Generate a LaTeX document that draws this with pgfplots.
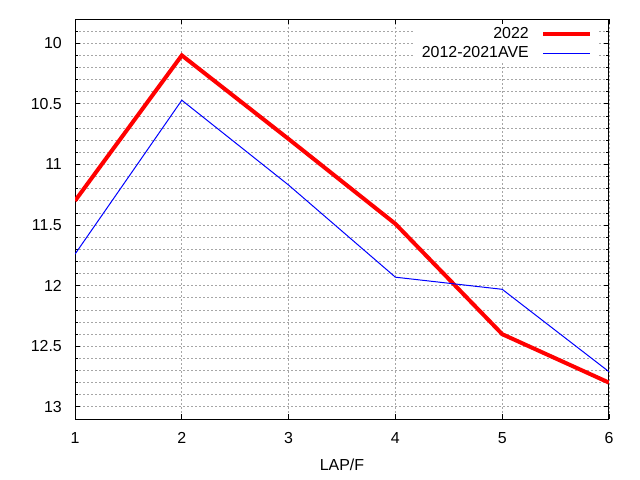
\documentclass[border=0pt]{standalone}
\usepackage{fontspec}
\setmainfont{Liberation Sans}
\usepackage{pgfplots}
\pgfplotsset{compat=1.18}

\begin{document}
\begin{tikzpicture}
  \useasboundingbox (-75bp,-61bp) rectangle (565bp,419bp);
  \begin{axis}[
    at={(0,0)}, anchor=south west,
    scale only axis,
    width=534bp, height=400bp,
    xmin=1, xmax=6,
    ymin=9.8, ymax=13.1,
    y dir=reverse,
    xtick={1,2,3,4,5,6},
    ytick={10,10.5,11,11.5,12,12.5,13},
    minor ytick={9.9,10.1,10.2,10.3,10.4,10.6,10.7,10.8,10.9,11.1,11.2,11.3,11.4,11.6,11.7,11.8,11.9,12.1,12.2,12.3,12.4,12.6,12.7,12.8,12.9,13.1},
    tick align=inside,
    major tick length=5bp,
    minor tick length=3bp,
    tick style={black, line width=0.8bp},
    axis line style={black, line width=1bp},
    grid=both,
    xminorgrids=false,
    major grid style={gray!70, line width=0.8bp, dash pattern=on 2bp off 2bp},
    minor grid style={gray!70, line width=0.8bp, dash pattern=on 2bp off 2bp},
    /pgf/number format/assume math mode=true,
    ticklabel style={font=\fontsize{16}{18}\selectfont},
    yticklabel style={inner sep=0pt, anchor=east, xshift=-13bp},
    xticklabel style={inner sep=0pt, anchor=north, yshift=-13bp},
    xlabel={LAP/F},
    xlabel style={at={(axis description cs:0.5,0)}, anchor=base, yshift=-51bp, inner sep=0pt, font=\fontsize{16}{18}\selectfont},
    legend cell align=right,
    legend plot pos=right,
    legend image code/.code={\draw[#1] (0bp,0bp) -- (47bp,0bp);},
    legend style={
      at={(axis description cs:1,1)}, anchor=north east,
      xshift=-11bp, yshift=-5bp,
      draw=none, fill=white,
      inner xsep=5.5bp, inner ysep=2bp,
      row sep=3.5bp,
      font=\fontsize{16}{18}\selectfont,
      nodes={inner sep=1.5bp},
      /tikz/every odd column/.append style={column sep=11bp},
    },
  ]
    \addplot[red, line width=4bp] coordinates {
      (1, 11.30) (2, 10.10) (3, 10.79) (4, 11.49) (5, 12.40) (6, 12.80)
    };
    \addplot[blue, line width=1bp] coordinates {
      (1, 11.74) (2, 10.47) (3, 11.17) (4, 11.93) (5, 12.03) (6, 12.71)
    };
    \legend{2022, 2012-2021AVE}
  \end{axis}
\end{tikzpicture}
\end{document}
